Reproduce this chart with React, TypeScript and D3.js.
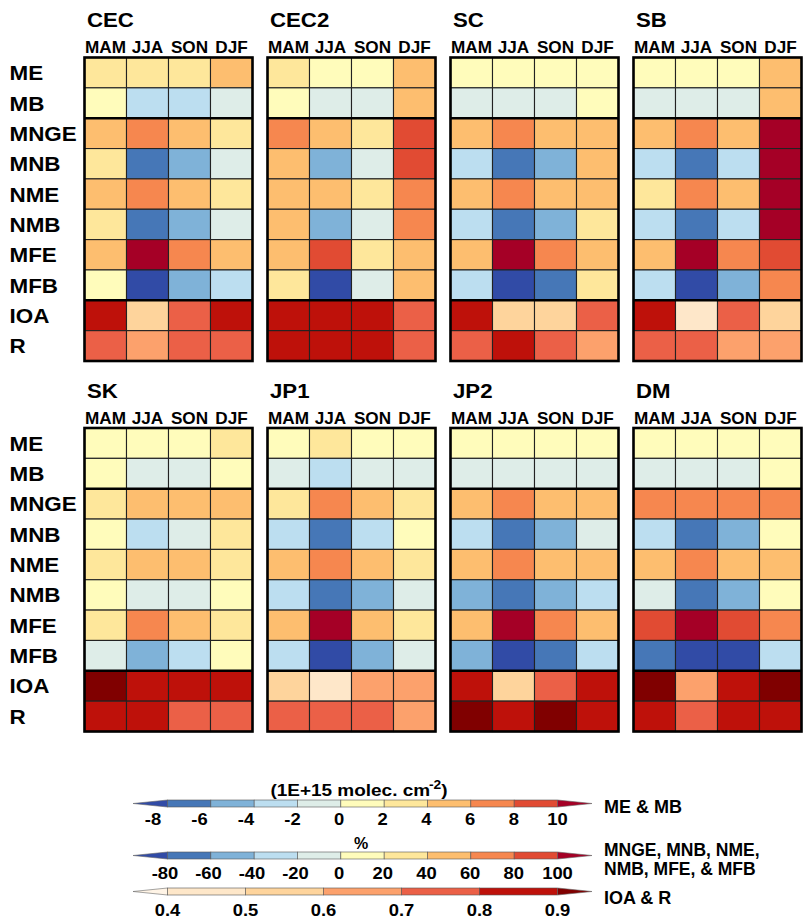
import * as d3 from 'd3';

const seasons = ['MAM', 'JJA', 'SON', 'DJF'];
const metrics = ['ME', 'MB', 'MNGE', 'MNB', 'NME', 'NMB', 'MFE', 'MFB', 'IOA', 'R'];
const regions = ['CEC', 'CEC2', 'SC', 'SB', 'SK', 'JP1', 'JP2', 'DM'];

// rows follow metrics, columns follow seasons
// ME/MB in 1E+15 molec. cm-2, MNGE..MFB in %, IOA/R unitless
const CEC = [
  [3.1, 3.4, 2.9, 4.6], [0.9, -2.6, -3.1, -0.8],
  [47, 66, 52, 31], [28, -71, -48, -12], [45, 64, 50, 30], [26, -69, -46, -11],
  [48, 112, 67, 45], [14, -84, -52, -27],
  [0.84, 0.56, 0.76, 0.83], [0.74, 0.65, 0.73, 0.72],
];
const CEC2 = [
  [2.6, 1.4, 1.2, 4.8], [1.1, -0.9, -1.2, 4.5],
  [66, 51, 34, 87], [44, -45, -14, 86], [49, 46, 33, 68], [47, -43, -13, 67],
  [45, 85, 36, 53], [33, -86, -15, 51],
  [0.86, 0.85, 0.84, 0.75], [0.84, 0.83, 0.82, 0.74],
];
const SC = [
  [1.2, 1.4, 1.3, 1.1], [-0.6, -0.8, -0.7, 0.9],
  [48, 63, 52, 45], [-32, -74, -47, 44], [46, 62, 50, 44], [-31, -73, -45, 35],
  [47, 106, 65, 43], [-35, -88, -72, 36],
  [0.83, 0.54, 0.57, 0.74], [0.75, 0.82, 0.74, 0.66],
];
const SB = [
  [1.3, 1.2, 1.1, 5.2], [-0.7, -0.6, -0.5, 5.0],
  [46, 64, 49, 128], [-30, -73, -33, 126], [37, 62, 47, 121], [-29, -72, -32, 119],
  [45, 108, 66, 87], [-34, -89, -55, 63],
  [0.82, 0.47, 0.73, 0.57], [0.74, 0.72, 0.66, 0.64],
];
const SK = [
  [1.4, 1.2, 1.5, 2.4], [0.7, -0.8, -0.9, 1.1],
  [34, 46, 47, 44], [12, -26, -11, 25], [33, 44, 45, 31], [11, -13, -12, 15],
  [34, 64, 44, 35], [-14, -48, -27, 16],
  [0.93, 0.86, 0.85, 0.86], [0.85, 0.86, 0.76, 0.75],
];
const JP1 = [
  [1.1, 2.5, 1.3, 1.2], [-0.8, -2.8, -0.9, -0.7],
  [32, 67, 45, 33], [-28, -72, -31, 13], [44, 65, 43, 31], [-33, -70, -47, -12],
  [47, 115, 44, 34], [-32, -86, -46, -14],
  [0.55, 0.46, 0.65, 0.64], [0.74, 0.73, 0.72, 0.66],
];
const JP2 = [
  [1.2, 1.4, 1.3, 1.1], [-0.6, -0.9, -0.8, -0.7],
  [45, 64, 48, 46], [-28, -73, -46, -15], [44, 63, 47, 45], [-45, -71, -49, -33],
  [46, 112, 65, 47], [-47, -87, -74, -31],
  [0.85, 0.56, 0.76, 0.86], [0.92, 0.86, 0.93, 0.85],
];
const DM = [
  [1.1, 1.2, 1.3, 1.4], [-0.8, -0.7, -0.9, 0.6],
  [66, 67, 65, 64], [-31, -74, -48, 12], [47, 66, 49, 46], [-13, -72, -47, 14],
  [84, 109, 86, 65], [-73, -88, -86, -36],
  [0.93, 0.64, 0.86, 0.94], [0.86, 0.75, 0.85, 0.84],
];
const regionData = [CEC, CEC2, SC, SB, SK, JP1, JP2, DM];

const massTicks = [-8, -6, -4, -2, 0, 2, 4, 6, 8, 10];
const pctTicks = [-80, -60, -40, -20, 0, 20, 40, 60, 80, 100];
const ioaTicks = [0.4, 0.5, 0.6, 0.7, 0.8, 0.9];
const divColors = ['#314ba6', '#4677b7', '#7fb2d8', '#bcdef0', '#deede8', '#fffcbb',
  '#fee79b', '#fdbe6f', '#f6874f', '#e14b33', '#a50026'];
const ioaColors = ['#fff4e6', '#fee7c9', '#fed49c', '#fca16c', '#eb6047', '#be110a', '#800000'];

const massColor = d3.scaleThreshold<number, string>().domain(massTicks).range(divColors);
const pctColor = d3.scaleThreshold<number, string>().domain(pctTicks).range(divColors);
const ioaColor = d3.scaleThreshold<number, string>().domain(ioaTicks).range(ioaColors);

const colorFor = (row: number) => (row < 2 ? massColor : row < 8 ? pctColor : ioaColor);

const FONT = '"Liberation Sans", Arial, Helvetica, sans-serif';
const panelW = 168;
const panelH = 303.5;
const panelX = (i: number) => 84.5 + (i % 4) * 183;
const panelY = (i: number) => (i < 4 ? 57.5 : 428);

const xBand = d3.scaleBand().domain(seasons).range([0, panelW]);
const yBand = d3.scaleBand().domain(metrics).range([0, panelH]);

const T = ({ x, y, sx = 1, size, anchor = 'start', children }: any) => (
  <text transform={`translate(${x},${y}) scale(${sx},1)`} fontSize={size}
    fontWeight="bold" fontFamily={FONT} textAnchor={anchor} fill="#000">
    {children}
  </text>
);

const Panel = ({ idx }: { idx: number }) => {
  const px = panelX(idx);
  const py = panelY(idx);
  const data = regionData[idx];
  return (
    <g>
      <T x={px + 2.5} y={py - 30.5} sx={1.14} size={19.5}>{regions[idx]}</T>
      {seasons.map(s => (
        <T key={s} x={px + xBand(s)! + xBand.bandwidth() / 2} y={py - 4.5} sx={1.04} size={16.5} anchor="middle">{s}</T>
      ))}
      <g transform={`translate(${px},${py})`}>
        {metrics.map((m, r) => seasons.map((s, c) => (
          <rect key={m + s} x={xBand(s)} y={yBand(m)} width={xBand.bandwidth()} height={yBand.bandwidth()}
            fill={colorFor(r)(data[r][c])} stroke="#222" strokeWidth={1.1} />
        )))}
        {['MNGE', 'IOA'].map(m => (
          <line key={m} x1={0} x2={panelW} y1={yBand(m)} y2={yBand(m)} stroke="#000" strokeWidth={2.6} />
        ))}
        <rect x={0} y={0} width={panelW} height={panelH} fill="none" stroke="#000" strokeWidth={2.6} />
      </g>
    </g>
  );
};

const cbX = d3.scaleLinear().domain([0, 1]).range([167.5, 557.5]);
const tipL = 133;
const tipR = 592;

const ColorBar = ({ ticks, colors, y0, h, labelY, labelPos, fmt }: any) => {
  const pos = d3.scaleLinear().domain([ticks[0], ticks[ticks.length - 1]]).range(cbX.range());
  const mid = y0 + h / 2;
  return (
    <g>
      <polygon points={`${pos(ticks[0])},${y0} ${tipL},${mid} ${pos(ticks[0])},${y0 + h}`}
        fill={colors[0]} stroke="#666" strokeWidth={0.6} />
      {ticks.slice(0, -1).map((t: number, i: number) => (
        <rect key={t} x={pos(t)} y={y0} width={pos(ticks[i + 1]) - pos(t)} height={h}
          fill={colors[i + 1]} stroke="#555" strokeWidth={0.6} />
      ))}
      <polygon points={`${pos(ticks[ticks.length - 1])},${y0} ${tipR},${mid} ${pos(ticks[ticks.length - 1])},${y0 + h}`}
        fill={colors[colors.length - 1]} stroke="#666" strokeWidth={0.6} />
      {ticks.map((t: number) => (
        <T key={t} x={labelPos(t)} y={labelY} sx={1.15} size={16} anchor="middle">{fmt(t)}</T>
      ))}
    </g>
  );
};

const massLabel = d3.scaleLinear().domain([-8, 0, 10]).range([153, 339, 557.5]);
const pctLabel = d3.scaleLinear().domain([-80, 0, 100]).range([165, 339, 557.5]);
const ioaLabel = d3.scaleLinear().domain([0.4, 0.9]).range([167.5, 557.5]);

export default function App() {
  return (
    <svg width={806} height={923} style={{ position: 'absolute', left: 0, top: 0, background: '#fff' }}>
      <rect width={806} height={923} fill="#fff" />
      {regions.map((_, i) => <Panel key={i} idx={i} />)}
      {[0, 4].map(i => metrics.map(m => (
        <T key={i + m} x={9.5} y={panelY(i) + yBand(m)! + yBand.bandwidth() / 2 + 7.5} sx={1.15} size={19.5}>{m}</T>
      )))}

      <text transform="translate(359,795.5) scale(1.15,1)" fontSize={16.5} fontWeight="bold" fontFamily={FONT} textAnchor="middle">
        (1E+15 molec. cm<tspan fontSize={12} dx={-1} dy={-7}>-2</tspan><tspan dy={7}>)</tspan>
      </text>
      <ColorBar ticks={massTicks} colors={divColors} y0={800} h={7} labelY={824.5} labelPos={massLabel} fmt={(t: number) => String(t)} />

      <T x={361} y={849} size={16} anchor="middle">%</T>
      <ColorBar ticks={pctTicks} colors={divColors} y0={852} h={7} labelY={879} labelPos={pctLabel} fmt={(t: number) => String(t)} />

      <ColorBar ticks={ioaTicks} colors={ioaColors} y0={888} h={7} labelY={915.5} labelPos={ioaLabel} fmt={(t: number) => t.toFixed(1)} />

      <T x={604} y={812.5} size={18}>ME &amp; MB</T>
      <T x={604} y={856} size={17.5}>MNGE, MNB, NME,</T>
      <T x={604} y={875} size={17.5}>NMB, MFE, &amp; MFB</T>
      <T x={604} y={904} size={18}>IOA &amp; R</T>
    </svg>
  );
}
